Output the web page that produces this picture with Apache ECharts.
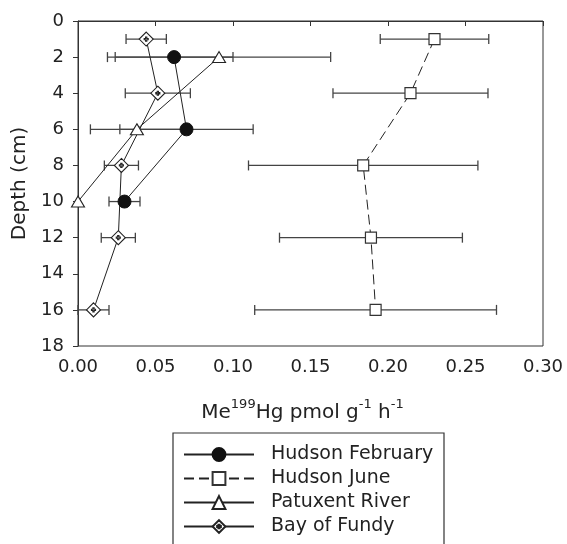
<!DOCTYPE html>
<html><head><meta charset="utf-8">
<script src="https://cdn.jsdelivr.net/npm/echarts@6/dist/echarts.min.js"></script>
<style>html,body{margin:0;padding:0;background:#fff}#c{width:567px;height:544px}</style>
</head><body><div id="c"></div>
<script>
const seriesNames = ['Hudson February', 'Hudson June', 'Patuxent River', 'Bay of Fundy'];

const febDepth = [2, 6, 10];
const febVal = [0.062, 0.070, 0.030];
const febErr = [0.038, 0.043, 0.010];

const juneDepth = [1, 4, 8, 12, 16];
const juneVal = [0.230, 0.2145, 0.184, 0.189, 0.192];
const juneErr = [0.035, 0.050, 0.074, 0.059, 0.078];

const patDepth = [2, 6, 10];
const patVal = [0.091, 0.038, 0.0];
const patErr = [0.072, 0.030, 0];

const fundyDepth = [1, 4, 8, 12, 16];
const fundyVal = [0.044, 0.0515, 0.028, 0.026, 0.010];
const fundyErr = [0.013, 0.021, 0.011, 0.011, 0.010];

const xMin = 0, xMax = 0.30, xStep = 0.05;
const yMin = 0, yMax = 18, yStep = 2;

const FONT = 'DejaVu Sans';
const INK = '#222';

function pts(vals, depths) { return vals.map((v, i) => [v, depths[i]]); }
function errPts(vals, depths, errs) { return vals.map((v, i) => [v, depths[i], errs[i]]); }

function renderErr(params, api) {
  const x = api.value(0), y = api.value(1), e = api.value(2);
  if (!e) return;
  const p1 = api.coord([x - e, y]), p2 = api.coord([x + e, y]);
  const st = { stroke: '#444', lineWidth: 1.3 };
  return {
    type: 'group', children: [
      { type: 'line', shape: { x1: p1[0], y1: p1[1], x2: p2[0], y2: p2[1] }, style: st },
      { type: 'line', shape: { x1: p1[0], y1: p1[1] - 5, x2: p1[0], y2: p1[1] + 5 }, style: st },
      { type: 'line', shape: { x1: p2[0], y1: p2[1] - 5, x2: p2[0], y2: p2[1] + 5 }, style: st }
    ]
  };
}

const diamondPath = 'path://M0 -10 L10 0 L0 10 L-10 0 Z M-0.9 -2.9 L0.9 -2.9 L0.9 -0.9 L2.9 -0.9 L2.9 0.9 L0.9 0.9 L0.9 2.9 L-0.9 2.9 L-0.9 0.9 L-2.9 0.9 L-2.9 -0.9 L-0.9 -0.9 Z';

function errSeries(name, data) {
  return { name: name, type: 'custom', renderItem: renderErr, data: data, encode: { x: 0, y: 1 }, z: 1, silent: true };
}

const chart = echarts.init(document.getElementById('c'), null, { renderer: 'canvas' });
chart.setOption({
  animation: false,
  backgroundColor: '#fff',
  grid: { left: 78, right: 24, top: 21, bottom: 198, show: true, borderColor: '#333', borderWidth: 1, backgroundColor: 'transparent' },
  xAxis: {
    type: 'value', min: xMin, max: xMax, interval: xStep,
    axisLine: { show: true, lineStyle: { color: '#333', width: 1 } },
    axisTick: { show: true, inside: false, length: 5, lineStyle: { color: '#333' } },
    splitLine: { show: false },
    axisLabel: { fontFamily: FONT, fontSize: 18, color: INK, margin: 12, formatter: v => v.toFixed(2) },
    name: '{a|Me}{s|199}{a|Hg pmol g}{s|-1}{a| h}{s|-1}',
    nameLocation: 'middle', nameGap: 52,
    nameTextStyle: {
      fontFamily: FONT, fontSize: 20, color: INK, padding: [0, 16, 0, 0],
      rich: {
        a: { fontFamily: FONT, fontSize: 20, color: INK, verticalAlign: 'bottom' },
        s: { fontFamily: FONT, fontSize: 13, color: INK, verticalAlign: 'bottom', padding: [0, 0, 12, 0] }
      }
    }
  },
  yAxis: {
    type: 'value', inverse: true, min: yMin, max: yMax, interval: yStep,
    axisLine: { show: true, lineStyle: { color: '#333', width: 1 } },
    axisTick: { show: true, inside: false, length: 5, lineStyle: { color: '#333' } },
    splitLine: { show: false },
    axisLabel: { fontFamily: FONT, fontSize: 18, color: INK, margin: 14 },
    name: 'Depth (cm)', nameLocation: 'middle', nameGap: 47, nameRotate: 90,
    nameTextStyle: { fontFamily: FONT, fontSize: 20, color: INK }
  },
  legend: {
    data: seriesNames,
    orient: 'vertical', left: 183, top: 445, padding: 0,
    itemWidth: 70, itemHeight: 16, itemGap: 5,
    textStyle: { fontFamily: FONT, fontSize: 19, color: INK, padding: [0, 0, 0, 12] },
    selectedMode: false
  },
  graphic: [
    { type: 'rect', shape: { x: 173, y: 433, width: 271, height: 200 }, style: { fill: 'none', stroke: '#333', lineWidth: 1.2 }, z: 10 }
  ],
  series: [
    errSeries('errFeb', errPts(febVal, febDepth, febErr)),
    errSeries('errJune', errPts(juneVal, juneDepth, juneErr)),
    errSeries('errPat', errPts(patVal, patDepth, patErr)),
    errSeries('errFundy', errPts(fundyVal, fundyDepth, fundyErr)),
    {
      name: seriesNames[0], type: 'line', data: pts(febVal, febDepth), z: 3,
      symbol: 'circle', symbolSize: 13,
      lineStyle: { color: INK, width: 1 },
      itemStyle: { color: '#111', borderColor: '#111', borderWidth: 1 }
    },
    {
      name: seriesNames[1], type: 'line', data: pts(juneVal, juneDepth), z: 3,
      symbol: 'rect', symbolSize: 11,
      lineStyle: { color: INK, width: 1, type: [10, 5] },
      itemStyle: { color: '#fff', borderColor: '#333', borderWidth: 1.2 }
    },
    {
      name: seriesNames[2], type: 'line', data: pts(patVal, patDepth), z: 3,
      symbol: 'triangle', symbolSize: [13, 11],
      lineStyle: { color: INK, width: 1 },
      itemStyle: { color: '#fff', borderColor: '#222', borderWidth: 1.1 }
    },
    {
      name: seriesNames[3], type: 'line', data: pts(fundyVal, fundyDepth), z: 3,
      symbol: diamondPath, symbolSize: 14,
      lineStyle: { color: INK, width: 1 },
      itemStyle: { color: '#fff', borderColor: '#222', borderWidth: 1.1 }
    }
  ]
});
</script></body></html>
